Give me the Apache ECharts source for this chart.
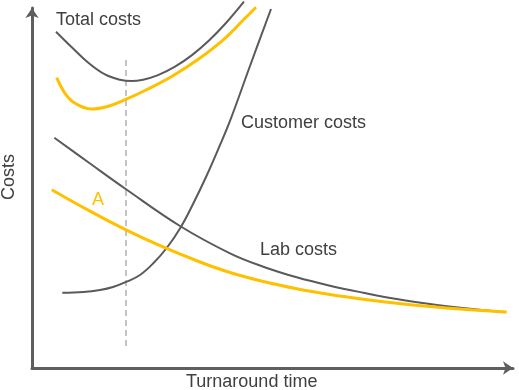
<!DOCTYPE html>
<html>
<head>
<meta charset="utf-8">
<script src="https://cdn.jsdelivr.net/npm/echarts@6/dist/echarts.min.js"></script>
<style>html,body{margin:0;padding:0;background:#fff;}#c{width:519px;height:390px;}</style>
</head>
<body>
<div id="c"></div>
<script>
// Values in arbitrary units: x = turnaround time (0-100), y = costs (0-100)
var totalCosts = [[4.99,93.89],[8.32,89.48],[11.64,85.29],[15.18,81.94],[18.30,80.49],[20.69,80.12],[23.08,80.49],[26.20,81.77],[29.73,84.12],[33.26,87.35],[36.80,91.43],[40.33,96.31],[44.07,102.26]];
var totalCostsA = [[5.14,81.04],[6.86,76.69],[8.94,73.90],[12.41,72.31],[15.86,73.09],[19.48,74.96],[23.49,77.47],[29.04,81.38],[34.57,86.18],[40.12,92.04],[44.28,97.63],[46.57,100.70]];
var customerCosts = [[6.30,21.02],[10.67,21.22],[14.14,21.78],[16.84,22.61],[19.69,24.09],[22.45,25.96],[25.22,29.23],[28.00,33.50],[30.77,38.94],[33.53,45.92],[36.32,53.74],[39.09,62.26],[41.16,68.96],[45.32,84.31],[49.69,100.22]];
var labCosts = [[4.64,64.29],[12.06,57.09],[19.48,49.97],[30.77,39.64],[41.16,32.02],[48.09,28.28],[55.03,25.32],[61.95,22.98],[68.88,21.02],[75.82,19.26],[82.74,17.87],[89.67,16.75],[98.34,15.55]];
var labCostsA = [[4.10,49.78],[12.06,43.80],[19.44,38.64],[26.26,34.37],[34.93,29.59],[41.16,26.66],[48.09,24.15],[55.03,22.14],[61.95,20.52],[68.88,19.18],[75.82,18.06],[82.74,17.14],[89.67,16.39],[98.69,15.61]];
var markerLine = [[19.54,85.99],[19.54,5.86]];
var labels = ['Total costs','Customer costs','Lab costs','A','Costs','Turnaround time'];

var GRAY = '#5a5a5a', GOLD = '#ffc000', TXT = '#404040';
var FONT = '18px "Liberation Sans", Arial, sans-serif';
var SMOOTH = 0.4;
function lineSeries(data, color, width){
  return {type:'line', data:data, smooth:SMOOTH, symbol:'none', clip:false, silent:true,
    lineStyle:{color:color, width:width}, z:3};
}
var chart = echarts.init(document.getElementById('c'), null, {renderer:'canvas'});
chart.setOption({
  animation:false,
  grid:{left:32, right:6, top:8, bottom:22},
  xAxis:{type:'value', min:0, max:100, splitLine:{show:false}, axisTick:{show:false}, axisLabel:{show:false},
    axisLine:{show:true, onZero:false, symbol:['none','arrow'], symbolSize:[10,10], lineStyle:{color:'#5f5f5f', width:3}}},
  yAxis:{type:'value', min:0, max:100.5, splitLine:{show:false}, axisTick:{show:false}, axisLabel:{show:false},
    axisLine:{show:true, onZero:false, symbol:['none','arrow'], symbolSize:[10,10], lineStyle:{color:'#5f5f5f', width:3}}},
  series:[
    {type:'line', data:markerLine, symbol:'none', silent:true, lineStyle:{color:'#c4c4c4', width:2, type:[6,4]}, z:2},
    lineSeries(totalCosts, GRAY, 2),
    lineSeries(totalCostsA, GOLD, 3),
    lineSeries(customerCosts, GRAY, 2),
    lineSeries(labCosts, GRAY, 2),
    lineSeries(labCostsA, GOLD, 3)
  ],
  graphic:[
    {type:'text', x:56, y:20, style:{text:labels[0], fill:TXT, font:FONT, verticalAlign:'middle'}},
    {type:'text', x:241, y:123, style:{text:labels[1], fill:TXT, font:FONT, verticalAlign:'middle'}},
    {type:'text', x:260, y:250, style:{text:labels[2], fill:TXT, font:FONT, verticalAlign:'middle'}},
    {type:'text', x:92, y:200, style:{text:labels[3], fill:GOLD, font:FONT, verticalAlign:'middle'}},
    {type:'text', x:9, y:177, rotation:Math.PI/2, style:{text:labels[4], fill:TXT, font:FONT, verticalAlign:'middle', align:'center'}},
    {type:'text', x:186, y:382, style:{text:labels[5], fill:TXT, font:FONT, verticalAlign:'middle'}}
  ]
});
</script>
</body>
</html>
